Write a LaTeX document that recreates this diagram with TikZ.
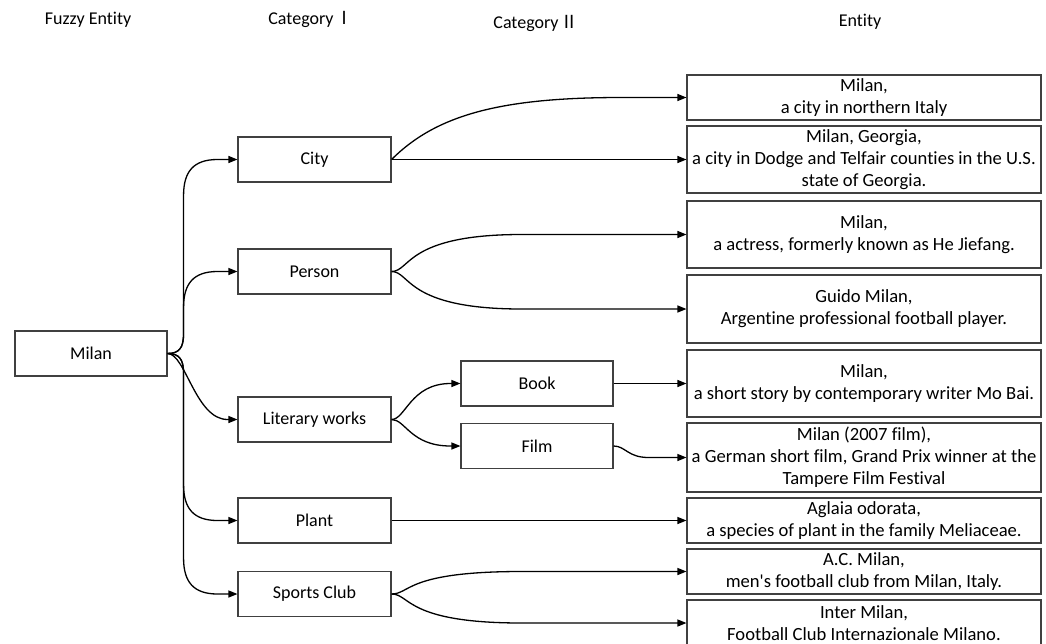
\documentclass[tikz,border=0pt]{standalone}
\usepackage{fontspec}
\setmainfont{Carlito}[Ligatures=NoCommon]
\newfontfamily\cjk{Noto Sans CJK SC}
\usetikzlibrary{arrows.meta,calc}

\begin{document}
\begin{tikzpicture}[x=1pt,y=-1pt,
  font=\fontsize{18}{22}\selectfont,
  box/.style={draw=black!75, line width=1.1pt, fill=white, inner sep=0pt, align=center},
  cat/.style={box, minimum width=153pt, minimum height=45pt},
  sub/.style={box, minimum width=152pt, minimum height=45pt},
  ent/.style={box, minimum width=354pt, minimum height=#1, font=\fontsize{18.6}{22}\selectfont},
  hdr/.style={inner sep=0pt},
  conn/.style={line width=1.3pt, -{Triangle[length=9pt,width=7pt]}},
  % curve leaving the start horizontally (or rising), levelling off at the target height
  link/.style n args={4}{to path={let \p1=(\tikztostart), \p2=(\tikztotarget) in
      .. controls (\x1+#1pt,\y1+#2pt) and (\x1+#3pt,\y2) .. (\x1+#4pt,\y2) -- (\p2)}},
  % fan branch going up: short bend, vertical run, bend into the target
  fanup/.style={to path={let \p1=(\tikztostart), \p2=(\tikztotarget) in
      .. controls (\x1+12pt,\y1) and (\x1+16pt,\y1+6pt) .. (\x1+16pt,\y1+20pt)
      -- (\x1+16pt,\y2-36pt)
      .. controls (\x1+16pt,\y2-12pt) and (\x1+26pt,\y2) .. (\x1+50pt,\y2) -- (\p2)}},
  % fan branch going down
  fandown/.style={to path={let \p1=(\tikztostart), \p2=(\tikztotarget) in
      .. controls (\x1+12pt,\y1) and (\x1+16pt,\y1-6pt) .. (\x1+16pt,\y1-20pt)
      -- (\x1+16pt,\y2+36pt)
      .. controls (\x1+16pt,\y2+12pt) and (\x1+26pt,\y2) .. (\x1+50pt,\y2) -- (\p2)}}
]
\path[use as bounding box, clip] (0,0) rectangle (1046,643);

% column headings
\node[hdr] (h1) at (88,20) {Fuzzy Entity};
\node[hdr] (h2) at (311,19) {Category\hspace{2pt}{\cjk Ⅰ}};
\node[hdr] (h3) at (536,23) {Category\hspace{2pt}{\cjk Ⅱ}};
\node[hdr] (h4) at (860,22) {Entity};

% fuzzy entity
\node[box, minimum width=152pt, minimum height=45pt] (milan) at (91,353.5) {Milan};

% first-level categories
\node[cat] (city)   at (314.5,159.5) {City};
\node[cat] (person) at (314.5,271.5) {Person};
\node[cat] (lit)    at (314.5,419.5) {Literary works};
\node[cat] (plant)  at (314.5,520.5) {Plant};
\node[cat] (sports) at (314.5,594)   {Sports Club};

% second-level categories
\node[sub] (book) at (537,383.5) {Book};
\node[sub] (film) at (537,446)   {Film};

% entities
\node[ent=45pt] (e1) at (864,97.5)  {Milan,\\a city in northern Italy};
\node[ent=67pt] (e2) at (864,159.5) {Milan, Georgia,\\a city in Dodge and Telfair counties in the U.S.\\state of Georgia.};
\node[ent=67pt] (e3) at (864,234.5) {Milan,\\a actress, formerly known as He Jiefang.};
\node[ent=68pt] (e4) at (864,309)   {Guido Milan,\\Argentine professional football player.};
\node[ent=67pt] (e5) at (864,383.5) {Milan,\\a short story by contemporary writer Mo Bai.};
\node[ent=69pt] (e6) at (864,457.5) {Milan (2007 film),\\a German short film, Grand Prix winner at the\\Tampere Film Festival};
\node[ent=45pt] (e7) at (864,520.5) {Aglaia odorata,\\a species of plant in the family Meliaceae.};
\node[ent=45pt] (e8) at (864,571.5) {A.C. Milan,\\men\textquotesingle s football club from Milan, Italy.};
\node[ent=46pt] (e9) at (864,623)   {Inter Milan,\\Football Club Internazionale Milano.};

% fuzzy entity to categories
\draw[conn] (milan.east) to[fanup] (city.west);
\draw[conn] (milan.east) to[fanup] (person.west);
\draw[conn] (milan.east) to[link={18}{0}{28}{60}] (lit.west);
\draw[conn] (milan.east) to[fandown] (plant.west);
\draw[conn] (milan.east) to[fandown] (sports.west);

% categories to entities
\draw[conn] (city.east) to[link={45}{45}{110}{230}] (e1.west);
\draw[conn] (city.east) -- (e2.west);
\draw[conn] (person.east) to[link={19}{0}{14}{130}] (e3.west);
\draw[conn] (person.east) to[link={19}{0}{14}{130}] (e4.west);
\draw[conn] (lit.east) to[link={14}{0}{19}{59}] (book.west);
\draw[conn] (lit.east) to[link={14}{0}{19}{59}] (film.west);
\draw[conn] (book.east) -- (e5.west);
\draw[conn] (film.east) to[link={12}{0}{14}{35}] (e6.west);
\draw[conn] (plant.east) -- (e7.west);
\draw[conn] (sports.east) to[link={19}{0}{14}{130}] (e8.west);
\draw[conn] (sports.east) to[link={19}{0}{14}{130}] (e9.west);
\end{tikzpicture}
\end{document}
